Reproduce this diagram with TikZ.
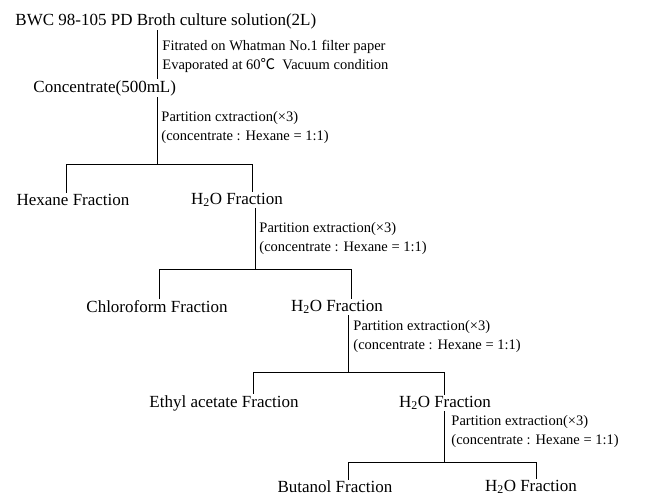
\documentclass[tikz,border=0pt]{standalone}
\usepackage{fontspec}
\setmainfont{Liberation Serif}
\newfontfamily\cjk{Noto Sans CJK SC}
\tikzset{
  frac/.style={font=\fontsize{17}{20}\selectfont, inner sep=1pt},
  note/.style={font=\fontsize{14.5}{19}\selectfont, inner sep=0pt, anchor=west, align=left},
}
\begin{document}
\begin{tikzpicture}[x=1pt,y=-1pt,line width=0.9pt]
    \useasboundingbox (0,0) rectangle (646,498);
    \node[frac,anchor=west] (src) at (14,21) {BWC 98-105 PD Broth culture solution(2L)};
    \node[frac,anchor=west] (conc) at (32,88) {Concentrate(500mL)};
    \node[frac] (hex) at (73,200) {Hexane Fraction};
    \node[frac] (wat1) at (237,200) {H\textsubscript{2}O Fraction};
    \node[frac] (chl) at (157,307) {Chloroform Fraction};
    \node[frac] (wat2) at (337,307) {H\textsubscript{2}O Fraction};
    \node[frac] (eth) at (224,403) {Ethyl acetate Fraction};
    \node[frac] (wat3) at (445,403) {H\textsubscript{2}O Fraction};
    \node[frac] (but) at (335,487) {Butanol Fraction};
    \node[frac] (wat4) at (531,487) {H\textsubscript{2}O Fraction};

    \coordinate (s0) at (157,0);
    \draw (src.south -| s0) -- (conc.north -| s0);
    \node[note] (n0) at (162,56) {Fitrated on Whatman No.1 filter paper\\Evaporated at 60{\cjk ℃}\ \ Vacuum condition};

    \coordinate (j1) at (157,164); \coordinate (l1) at (66,164); \coordinate (r1) at (252,164);
    \draw (conc.south -| j1) -- (j1);
    \draw (hex.north -| l1) -- (l1) -- (r1) -- (wat1.north -| r1);
    \node[note] (n1) at (161,128) {Partition cxtraction(\texttimes3)\\(concentrate : Hexane = 1:1)};

    \coordinate (j2) at (255,269); \coordinate (l2) at (159,269); \coordinate (r2) at (351,269);
    \draw (wat1.south -| j2) -- (j2);
    \draw (chl.north -| l2) -- (l2) -- (r2) -- (wat2.north -| r2);
    \node[note] (n2) at (259,239) {Partition extraction(\texttimes3)\\(concentrate : Hexane = 1:1)};

    \coordinate (j3) at (348,372); \coordinate (l3) at (253,372); \coordinate (r3) at (444,372);
    \draw (wat2.south -| j3) -- (j3);
    \draw (eth.north -| l3) -- (l3) -- (r3) -- (wat3.north -| r3);
    \node[note] (n3) at (353,337) {Partition extraction(\texttimes3)\\(concentrate : Hexane = 1:1)};

    \coordinate (j4) at (444,462); \coordinate (l4) at (348,462); \coordinate (r4) at (536,462);
    \draw (wat3.south -| j4) -- (j4);
    \draw (but.north -| l4) -- (l4) -- (r4) -- (wat4.north -| r4);
    \node[note] (n4) at (451,432) {Partition extraction(\texttimes3)\\(concentrate : Hexane = 1:1)};
\end{tikzpicture}
\end{document}
